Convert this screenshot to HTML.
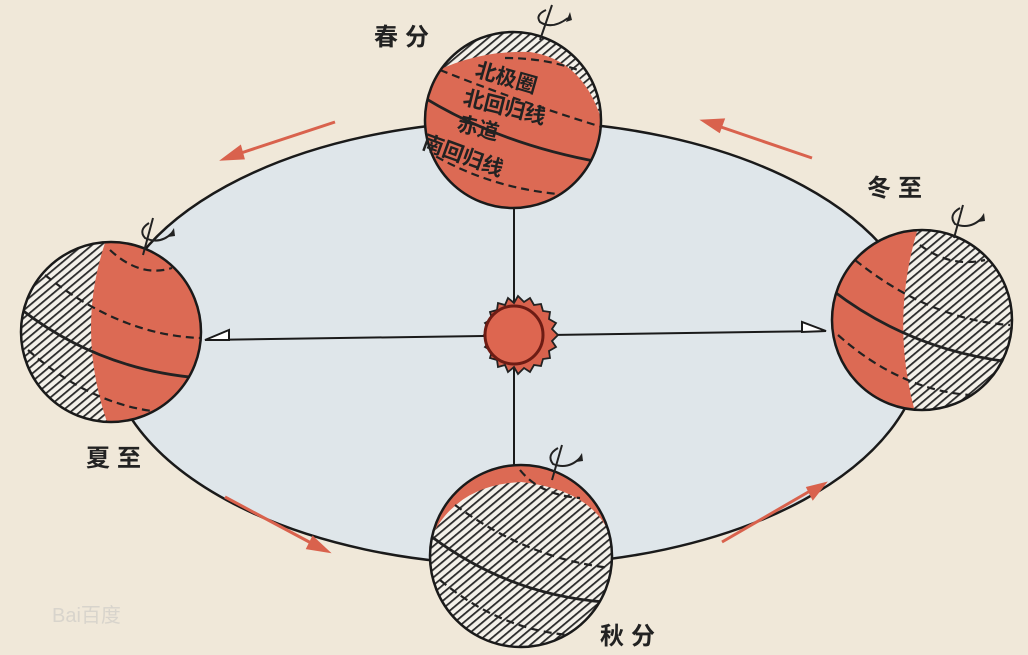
<!DOCTYPE html>
<html><head><meta charset="utf-8"><style>
html,body{margin:0;padding:0;background:#f0e8d9;}
svg{display:block}
text{font-family:"Liberation Sans","Noto Sans CJK SC",sans-serif;fill:#222;}
</style></head><body>
<svg width="1028" height="655" viewBox="0 0 1028 655" xmlns="http://www.w3.org/2000/svg">
<defs>
<pattern id="h" width="6" height="6" patternUnits="userSpaceOnUse" patternTransform="rotate(-40)">
<rect width="6" height="6" fill="#f4f1ea"/>
<rect width="6" height="1.8" fill="#2a2a2a"/>
</pattern>
<clipPath id="cS"><circle cx="513" cy="120" r="88"/></clipPath>
<clipPath id="cU"><circle cx="111" cy="332" r="90"/></clipPath>
<clipPath id="cW"><circle cx="922" cy="320" r="90"/></clipPath>
<clipPath id="cA"><circle cx="521" cy="556" r="91"/></clipPath>
</defs>
<rect width="1028" height="655" fill="#f0e8d9"/>
<ellipse cx="515" cy="343" rx="408" ry="222" fill="#dfe6ea" stroke="#1a1a1a" stroke-width="2.5"/>

<line x1="514" y1="170" x2="514" y2="465" stroke="#1a1a1a" stroke-width="2"/>
<path d="M514 165 L508 180 L514 180 Z" fill="#fff" stroke="#1a1a1a" stroke-width="2"/>
<line x1="205" y1="340" x2="826" y2="331" stroke="#1a1a1a" stroke-width="2"/>
<path d="M205 340 L229 330 L229 340 Z" fill="#fff" stroke="#1a1a1a" stroke-width="2"/>
<path d="M826 331 L802 322 L802 332 Z" fill="#fff" stroke="#1a1a1a" stroke-width="2"/>

<polygon points="558,335 552,341 556,347 549,351 550,358 543,359 541,366 534,365 530,372 524,368 518,374 514,367 508,372 505,365 498,367 497,360 490,358 492,351 485,347 490,341 484,335 490,329 485,323 492,319 490,312 497,310 498,303 505,305 508,298 514,303 518,296 524,302 530,298 534,305 541,304 543,311 550,312 549,319 556,323 552,329" fill="#d9624d" stroke="#222" stroke-width="1.8"/>
<circle cx="514" cy="335" r="29" fill="#dd6650" stroke="#6d1c14" stroke-width="3"/>

<g stroke="#d9624d" stroke-width="3" fill="#d9624d">
<line x1="335" y1="122" x2="238" y2="154"/><path d="M224 159 L240 147 L243 158 Z"/>
<line x1="812" y1="158" x2="718" y2="126"/><path d="M704 121 L723 120 L719 131 Z"/>
<line x1="225" y1="497" x2="313" y2="544"/><path d="M327 551 L308 548 L313 538 Z"/>
<line x1="722" y1="542" x2="810" y2="491"/><path d="M824 484 L813 498 L808 488 Z"/>
</g>

<!-- spring -->
<circle cx="513" cy="120" r="88" fill="url(#h)"/>
<g clip-path="url(#cS)">
<path d="M420 80 Q470 50 530 52 Q585 60 603 125 L605 215 L420 215 Z" fill="#dc6a54"/>
<path d="M505 58 Q545 58 578 70" fill="none" stroke="#222" stroke-width="2.2" stroke-dasharray="8 5"/>
<path d="M440 70 Q520 102 605 128" fill="none" stroke="#222" stroke-width="2.2" stroke-dasharray="8 5"/>
<path d="M420 95 Q500 145 605 163" fill="none" stroke="#222" stroke-width="2.8"/>
<path d="M425 150 Q490 190 570 195" fill="none" stroke="#222" stroke-width="2.2" stroke-dasharray="8 5"/>
</g>
<circle cx="513" cy="120" r="88" fill="none" stroke="#1a1a1a" stroke-width="2.5"/>
<g font-size="21" font-weight="bold">
<text x="474" y="76" transform="rotate(16 474 76)">北极圈</text>
<text x="462" y="104" transform="rotate(14 462 104)">北回归线</text>
<text x="456" y="130" transform="rotate(14 456 130)">赤道</text>
<text x="421" y="148" transform="rotate(20 421 148)">南回归线</text>
</g>
<g stroke="#222" stroke-width="2" fill="none"><line x1="540" y1="40" x2="552" y2="5"/><path d="M546 10 Q535 15 540 22 Q552 30 568 18"/></g>
<path d="M570 12 L566 22 L572 20 Z" fill="#222"/>

<!-- summer -->
<circle cx="111" cy="332" r="90" fill="url(#h)"/>
<g clip-path="url(#cU)">
<path d="M106 240 Q75 330 108 425 L205 425 L205 240 Z" fill="#dc6a54"/>
<path d="M110 250 Q140 278 172 268" fill="none" stroke="#222" stroke-width="2.2" stroke-dasharray="8 5"/>
<path d="M45 275 Q120 335 200 338" fill="none" stroke="#222" stroke-width="2.2" stroke-dasharray="8 5"/>
<path d="M22 310 Q100 370 200 378" fill="none" stroke="#222" stroke-width="2.8"/>
<path d="M28 350 Q90 405 160 412" fill="none" stroke="#222" stroke-width="2.2" stroke-dasharray="8 5"/>
</g>
<circle cx="111" cy="332" r="90" fill="none" stroke="#1a1a1a" stroke-width="2.5"/>
<g stroke="#222" stroke-width="2" fill="none"><line x1="143" y1="255" x2="153" y2="218"/><path d="M149 223 Q138 230 145 238 Q160 245 172 233"/></g>
<path d="M174 228 L168 237 L175 236 Z" fill="#222"/>

<!-- winter -->
<circle cx="922" cy="320" r="90" fill="url(#h)"/>
<g clip-path="url(#cW)">
<path d="M918 228 Q890 320 915 412 L830 412 L830 228 Z" fill="#dc6a54"/>
<path d="M920 245 Q950 268 985 260" fill="none" stroke="#222" stroke-width="2.2" stroke-dasharray="8 5"/>
<path d="M855 260 Q930 320 1010 325" fill="none" stroke="#222" stroke-width="2.2" stroke-dasharray="8 5"/>
<path d="M832 290 Q910 350 1010 362" fill="none" stroke="#222" stroke-width="2.8"/>
<path d="M838 335 Q900 390 970 395" fill="none" stroke="#222" stroke-width="2.2" stroke-dasharray="8 5"/>
</g>
<circle cx="922" cy="320" r="90" fill="none" stroke="#1a1a1a" stroke-width="2.5"/>
<g stroke="#222" stroke-width="2" fill="none"><line x1="954" y1="238" x2="963" y2="205"/><path d="M960 208 Q948 215 955 224 Q970 230 982 218"/></g>
<path d="M984 213 L978 222 L985 221 Z" fill="#222"/>

<!-- autumn -->
<circle cx="521" cy="556" r="91" fill="url(#h)"/>
<g clip-path="url(#cA)">
<path d="M430 540 Q440 465 521 465 Q600 465 612 540 Q595 490 521 482 Q455 485 430 540 Z" fill="#dc6a54"/>
<path d="M520 470 Q540 495 580 498" fill="none" stroke="#222" stroke-width="2.2" stroke-dasharray="8 5"/>
<path d="M455 505 Q530 560 612 568" fill="none" stroke="#222" stroke-width="2.2" stroke-dasharray="8 5"/>
<path d="M432 537 Q510 595 605 602" fill="none" stroke="#222" stroke-width="2.8"/>
<path d="M440 580 Q500 630 570 635" fill="none" stroke="#222" stroke-width="2.2" stroke-dasharray="8 5"/>
</g>
<circle cx="521" cy="556" r="91" fill="none" stroke="#1a1a1a" stroke-width="2.5"/>
<g stroke="#222" stroke-width="2" fill="none"><line x1="552" y1="480" x2="562" y2="445"/><path d="M558 448 Q546 455 553 464 Q568 470 580 458"/></g>
<path d="M582 453 L576 462 L583 461 Z" fill="#222"/>

<g font-size="24" font-weight="bold">
<text x="374" y="45" letter-spacing="7">春分</text>
<text x="867" y="196" letter-spacing="7">冬至</text>
<text x="86" y="466" letter-spacing="7">夏至</text>
<text x="600" y="644" letter-spacing="7">秋分</text>
</g>
<text x="52" y="622" font-size="20" style="fill:#d8d4cc">Bai百度</text>
</svg>
</body></html>
